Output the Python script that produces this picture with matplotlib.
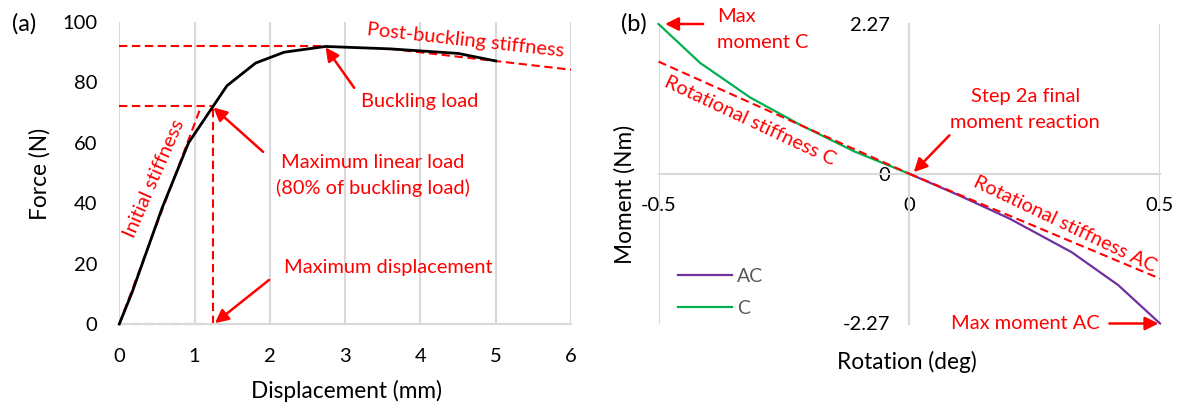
import matplotlib
matplotlib.use("Agg")
import matplotlib.pyplot as plt

plt.rcParams['font.family'] = ['Lato', 'DejaVu Sans']

# ---------------- data ----------------
# (a) force-displacement
disp = [0, 0.17, 0.57, 0.92, 1.43, 1.81, 2.19, 2.74, 3.6, 4.5, 5.0]
force = [0, 10.5, 38.5, 60.0, 78.9, 86.4, 90.0, 91.9, 91.1, 89.6, 87.1]
x_ticks_a = [0, 1, 2, 3, 4, 5, 6]
y_ticks_a = [0, 20, 40, 60, 80, 100]
buckling_load = 92.0
buckling_disp = 2.74
max_linear_load = 72.3
max_disp = 1.25
init_stiff_x = [0, 1.09]
init_stiff_y = [0, 72.3]
post_stiff_x = [3.6, 6.0]
post_stiff_y = [91.1, 84.2]

# (b) moment-rotation
rot_C = [-0.5, -0.417, -0.317, -0.217, -0.11, 0]
mom_C = [2.27, 1.68, 1.155, 0.74, 0.34, 0]
rot_AC = [0, 0.1, 0.2, 0.324, 0.417, 0.5]
mom_AC = [0, -0.33, -0.68, -1.19, -1.69, -2.27]
stiff_C_x = [-0.5, 0]
stiff_C_y = [1.70, 0]
stiff_AC_x = [0, 0.5]
stiff_AC_y = [0, -1.59]
x_ticks_b = [-0.5, 0, 0.5]
x_ticklabels_b = ['-0.5', '0', '0.5']
y_ticks_b = [-2.27, 0, 2.27]
y_ticklabels_b = ['-2.27', '0', '2.27']

RED = '#FF0000'
GRID = '#D9D9D9'
PURPLE = '#7030A0'
GREEN = '#00B050'
W, H = 1183, 405

fig = plt.figure(figsize=(W / 100, H / 100), dpi=100)

def px_axes(x0, x1, ytop, ybot):
    return fig.add_axes([x0 / W, 1 - ybot / H, (x1 - x0) / W, (ybot - ytop) / H])

dash = dict(color=RED, lw=1.5, ls=(0, (4, 2.2)))
arrow = dict(arrowstyle='-|>', color=RED, lw=1.8, mutation_scale=20, shrinkA=0, shrinkB=0)
TFS = 14.4
LFS = 16.3

# ---------------- (a) ----------------
ax = px_axes(119.3, 571, 22, 324)
ax.set_xlim(0, 6)
ax.set_ylim(0, 100)
ax.set_xticks(x_ticks_a)
ax.set_yticks(y_ticks_a)
ax.tick_params(length=0, labelsize=14.5, colors='black')
ax.tick_params(axis='y', pad=16)
ax.tick_params(axis='x', pad=17)
for s in ['top', 'right', 'left']:
    ax.spines[s].set_visible(False)
ax.spines['bottom'].set_color(GRID)
ax.spines['bottom'].set_linewidth(1.5)
ax.grid(axis='x', color=GRID, lw=1.5)
ax.set_axisbelow(True)

ax.plot([0, buckling_disp], [buckling_load, buckling_load], **dash, clip_on=False)
ax.plot([0, max_disp], [max_linear_load, max_linear_load], **dash, clip_on=False)
ax.plot([max_disp, max_disp], [0, max_linear_load], **dash, clip_on=False)
ax.plot([0, max_disp], [0, 0], **dash, clip_on=False)
ax.plot(init_stiff_x, init_stiff_y, **dash, clip_on=False)
ax.plot(post_stiff_x, post_stiff_y, **dash, clip_on=False)
ax.plot(disp, force, color='black', lw=2.0, clip_on=False, zorder=3)

ax.annotate('', xy=(2.74, 91.6), xytext=(3.12, 78.2), arrowprops=arrow)
ax.annotate('', xy=(1.25, 71.7), xytext=(1.91, 57.0), arrowprops=arrow)
ax.annotate('', xy=(1.27, 0.3), xytext=(1.99, 14.6), arrowprops=arrow, annotation_clip=False)

ax.text(3.99, 73.8, 'Buckling load', color=RED, fontsize=TFS, ha='center', va='center')
ax.text(3.37, 53.6, 'Maximum linear load', color=RED, fontsize=TFS, ha='center', va='center')
ax.text(3.37, 45.0, '(80% of buckling load)', color=RED, fontsize=TFS, ha='center', va='center')
ax.text(3.57, 18.7, 'Maximum displacement', color=RED, fontsize=TFS, ha='center', va='center')
ax.text(0.46, 48.0, 'Initial stiffness', color=RED, fontsize=TFS, ha='center', va='center',
        rotation=66.5, rotation_mode='anchor')
ax.text(4.6, 94.0, 'Post-buckling stiffness', color=RED, fontsize=TFS, ha='center', va='center',
        rotation=-6.3, rotation_mode='anchor', clip_on=False)

ax.set_xlabel('Displacement (mm)', fontsize=LFS)
ax.set_ylabel('Force (N)', fontsize=LFS)
ax.xaxis.set_label_coords(0.502, -0.222)
ax.xaxis.label.set_va('center')
ax.yaxis.set_label_coords(-0.175, 0.497)
ax.yaxis.label.set_va('center')
fig.text(24 / W, 1 - 24 / H, '(a)', fontsize=17, ha='center', va='center')

# ---------------- (b) ----------------
bx = px_axes(658.5, 1160, 24, 323.5)
bx.set_xlim(-0.5, 0.5)
bx.set_ylim(-2.27, 2.27)
bx.set_xticks(x_ticks_b)
bx.set_xticklabels(x_ticklabels_b)
bx.set_yticks(y_ticks_b)
bx.set_yticklabels(y_ticklabels_b)
bx.tick_params(length=0, labelsize=14.5, colors='black')
bx.tick_params(axis='y', pad=14)
bx.tick_params(axis='x', pad=17)
for s in ['top', 'right']:
    bx.spines[s].set_visible(False)
bx.spines['left'].set_position(('data', 0))
bx.spines['bottom'].set_position(('data', 0))
for s in ['left', 'bottom']:
    bx.spines[s].set_color(GRID)
    bx.spines[s].set_linewidth(1.5)
bx.grid(axis='x', color=GRID, lw=1.5)
bx.set_axisbelow(True)

bx.plot(rot_AC, mom_AC, color=PURPLE, lw=1.6, label='AC', clip_on=False, zorder=3)
bx.plot(rot_C, mom_C, color=GREEN, lw=1.6, label='C', clip_on=False, zorder=3)
bx.plot(stiff_C_x, stiff_C_y, **dash, zorder=4, clip_on=False)
bx.plot(stiff_AC_x, stiff_AC_y, **dash, zorder=4, clip_on=False)

bx.annotate('', xy=(-0.487, 2.27), xytext=(-0.411, 2.27), arrowprops=arrow, annotation_clip=False)
bx.annotate('', xy=(0.009, 0.024), xytext=(0.080, 0.582), arrowprops=arrow)
bx.annotate('', xy=(0.497, -2.27), xytext=(0.399, -2.27), arrowprops=arrow, annotation_clip=False)

bx.text(-0.384, 2.38, 'Max', color=RED, fontsize=TFS, ha='left', va='center', clip_on=False)
bx.text(-0.384, 1.985, 'moment C', color=RED, fontsize=TFS, ha='left', va='center')
bx.text(0.231, 1.175, 'Step 2a final', color=RED, fontsize=TFS, ha='center', va='center')
bx.text(0.231, 0.77, 'moment reaction', color=RED, fontsize=TFS, ha='center', va='center')
bx.text(-0.318, 0.81, 'Rotational stiffness C', color=RED, fontsize=TFS, ha='center', va='center',
        rotation=-25.2, rotation_mode='anchor')
bx.text(0.311, -0.76, 'Rotational stiffness AC', color=RED, fontsize=TFS, ha='center', va='center',
        rotation=-25.5, rotation_mode='anchor')
bx.text(0.232, -2.27, 'Max moment AC', color=RED, fontsize=TFS, ha='center', va='center', clip_on=False)

leg = bx.legend(loc='upper left', bbox_to_anchor=(677.7 / W, 1 - 268 / H),
                bbox_transform=fig.transFigure, frameon=False, fontsize=14,
                handlelength=2.8, handletextpad=0.25, labelspacing=0.75,
                borderpad=0, borderaxespad=0)
for t in leg.get_texts():
    t.set_color('#595959')

bx.set_xlabel('Rotation (deg)', fontsize=LFS)
bx.set_ylabel('Moment (Nm)', fontsize=LFS)
bx.xaxis.set_label_coords(0.496, -0.128)
bx.xaxis.label.set_va('center')
bx.yaxis.set_label_coords(-0.068, 0.432)
bx.yaxis.label.set_va('center')
fig.text(634 / W, 1 - 24 / H, '(b)', fontsize=17, ha='center', va='center')

fig.savefig('out.png', dpi=100)
